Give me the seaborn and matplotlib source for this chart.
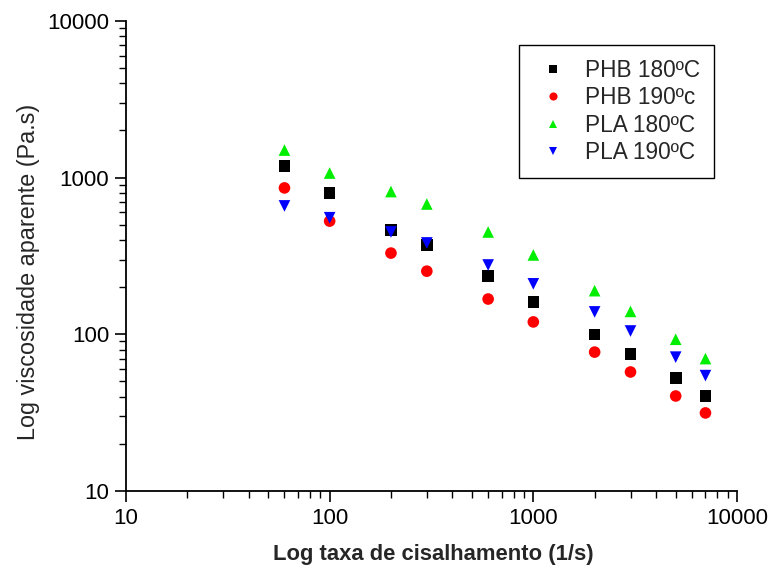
import numpy as np
import pandas as pd
import matplotlib
matplotlib.use("Agg")
import matplotlib.pyplot as plt
import seaborn as sns
from matplotlib.ticker import LogLocator, FixedLocator, FixedFormatter, NullFormatter

shear = [60, 100, 200, 300, 600, 1000, 2000, 3000, 5000, 7000]
phb_180 = [1190, 800, 465, 370, 235, 161, 100, 75, 52.5, 40.5]
phb_190 = [860, 528, 330, 253, 168, 120, 77, 57.5, 40.4, 31.5]
pla_180 = [1500, 1070, 815, 679, 450, 321, 190, 140, 93, 70]
pla_190 = [660, 555, 450, 383, 277, 210, 139, 105, 71.5, 54.5]
labels = ["PHB 180ºC", "PHB 190ºc", "PLA 180ºC", "PLA 190ºC"]
colors = ["#000000", "#ff0000", "#00ee00", "#0000ff"]
markers = ["s", "o", "^", "v"]

series = [phb_180, phb_190, pla_180, pla_190]
df = pd.concat([pd.DataFrame({"x": shear, "y": s, "serie": lab}) for s, lab in zip(series, labels)])

sns.set_theme(style="ticks")
plt.rcParams["font.family"] = ["Liberation Sans", "DejaVu Sans"]

fig = plt.figure(figsize=(7.69, 5.70), dpi=100)
ax = fig.add_axes([0.1638, 0.1386, 0.7946, 0.8246])

sns.scatterplot(data=df, x="x", y="y", hue="serie", style="serie",
                palette=dict(zip(labels, colors)), markers=dict(zip(labels, markers)),
                hue_order=labels, style_order=labels, s=70, linewidth=0, ax=ax)

ax.set_xscale("log")
ax.set_yscale("log")
ax.set_xlim(10, 10000)
ax.set_ylim(10, 10000)

major = [10, 100, 1000, 10000]
ax.xaxis.set_major_locator(FixedLocator(major))
ax.xaxis.set_major_formatter(FixedFormatter([str(v) for v in major]))
ax.yaxis.set_major_locator(FixedLocator(major))
ax.yaxis.set_major_formatter(FixedFormatter([str(v) for v in major]))
ax.xaxis.set_minor_locator(LogLocator(base=10, subs=np.arange(2, 10)))
ax.yaxis.set_minor_locator(LogLocator(base=10, subs=np.arange(2, 10)))
ax.xaxis.set_minor_formatter(NullFormatter())
ax.yaxis.set_minor_formatter(NullFormatter())

ax.tick_params(which="major", length=8, width=1.2, labelsize=16, color="black", labelcolor="black", pad=4)
ax.tick_params(which="minor", length=5, width=1.0, color="black")
for sp in ["top", "right"]:
    ax.spines[sp].set_visible(False)
for sp in ["left", "bottom"]:
    ax.spines[sp].set_color("black")
    ax.spines[sp].set_linewidth(1.3)

ax.set_xlabel("Log taxa de cisalhamento (1/s)", fontsize=15.8, fontweight="bold")
ax.set_ylabel("Log viscosidade aparente (Pa.s)", fontsize=16.8)
ax.xaxis.set_label_coords(0.503, -0.113)
ax.yaxis.set_label_coords(-0.141, 0.466)

leg = ax.legend(loc="upper right", bbox_to_anchor=(0.962, 0.949), borderaxespad=0, fontsize=16.3,
                frameon=True, fancybox=False, edgecolor="black", framealpha=1, handletextpad=0.5,
                borderpad=0.62, labelspacing=0.19, markerscale=0.7, handlelength=1.8)
leg.get_frame().set_linewidth(1.0)

fig.savefig("out.png", dpi=100)
